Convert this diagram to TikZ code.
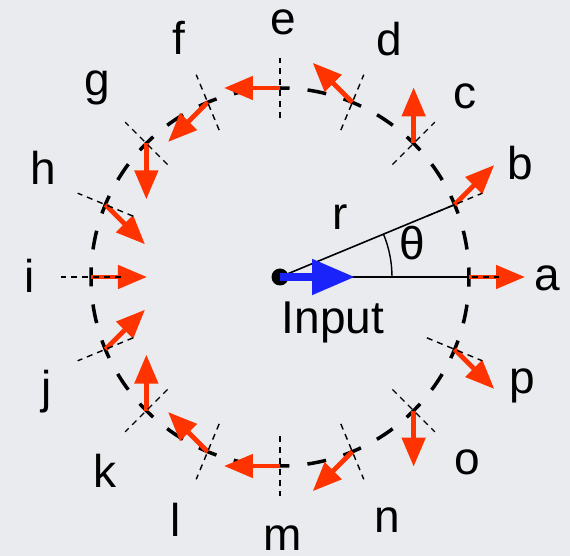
\documentclass[tikz,border=0pt]{standalone}
\usepackage{fontspec}
\setmainfont{Liberation Sans}
\usetikzlibrary{arrows.meta}
\definecolor{bg}{RGB}{233,235,239}
\definecolor{redarr}{RGB}{255,51,0}
\definecolor{bluearr}{RGB}{25,35,250}
\begin{document}
\begin{tikzpicture}[x=1pt,y=1pt,
  lbl/.style={font=\fontsize{46}{52}\selectfont, inner sep=0pt},
  redarrow/.style={draw=redarr, line width=4.8pt, -{Triangle[length=29pt,width=23pt]}},
  radtick/.style={black, line width=1.4pt, dash pattern=on 6pt off 5pt},
  circdash/.style={black, line width=3.5pt, dash pattern=on 19pt off 18.11pt, dash phase=9.5pt},
]
\fill[bg] (-280,-279) rectangle (290,277);
\useasboundingbox (-280,-279) rectangle (290,277);
\coordinate (O) at (0,0);
\draw[circdash] (O) circle (189);
\foreach \n [count=\i from 0] in {a,b,c,d,e,f,g,h,i,j,k,l,m,n,o,p} {
  \coordinate (P\n) at (22.5*\i:189);
  \path (P\n) ++(45*\i:56) coordinate (T\n);
  \draw[redarrow] (P\n) -- (T\n);
}
\foreach \n [count=\i from 0] in {a,b,c,d,e,f,g,h,i,j,k,l,m,n,o,p} {
  \coordinate (Ri\n) at (22.5*\i:159);
  \coordinate (Ro\n) at (22.5*\i:219);
  \draw[radtick] (Ri\n) -- (Ro\n);
}
\foreach \n/\x/\y in {a/267/-1, b/240/114, c/185/181, d/109/238, e/3/255, f/-101/239,
  g/-183/189, h/-237/109, i/-250/1, j/-233/-115, k/-175/-194, l/-104/-243,
  m/3/-261, n/107/-243, o/187/-185, p/242/-109} {
  \node[lbl] (L\n) at (\x,\y) {\n};
}
\draw[line width=1.6pt] (O) -- (Pa);
\draw[line width=1.6pt] (O) -- (Pb);
\coordinate (A0) at (112,0);
\draw[line width=1.4pt] (A0) arc[start angle=0, end angle=22.5, radius=112];
\node[lbl] (theta) at (132,34) {θ};
\node[lbl] (rl) at (60,60) {r};
\node[lbl] (inp) at (53,-45) {Input};
\fill[black] (O) circle (8.5);
\coordinate (B) at (75,0);
\draw[bluearr, line width=8pt, -{Triangle[length=43pt,width=34pt]}] (O) -- (B);
\end{tikzpicture}
\end{document}
